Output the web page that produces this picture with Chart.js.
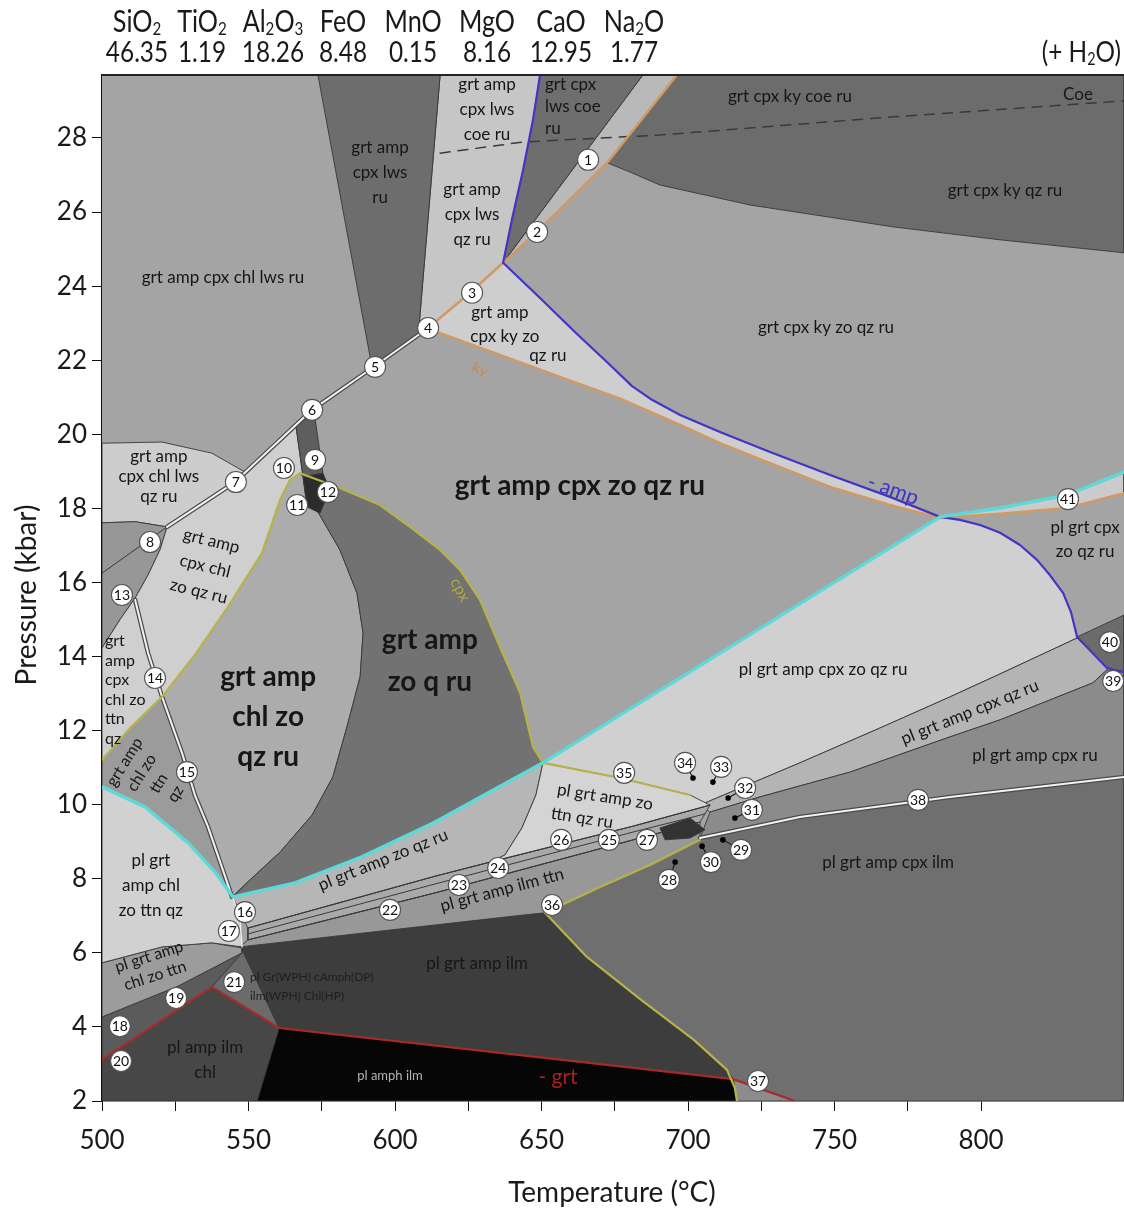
<!DOCTYPE html>
<html><head><meta charset="utf-8">
<script src="https://cdn.jsdelivr.net/npm/chart.js@4.4.1/dist/chart.umd.min.js"></script>
<style>html,body{margin:0;padding:0;background:#fff;}canvas{display:block}</style>
</head><body>
<canvas id="c" width="1124" height="1209"></canvas>
<script>
// ---------- axis limits & ticks ----------
const xLimits = [500, 848.8];
const yLimits = [2, 29.7];
const xStep = 25, xLabelStep = 50, yStep = 2;

// ---------- bulk composition header ----------
const oxides = ['SiO2','TiO2','Al2O3','FeO','MnO','MgO','CaO','Na2O'];
const oxideValues = ['46.35','1.19','18.26','8.48','0.15','8.16','12.95','1.77'];

// ---------- reaction lines [T (°C), P (kbar)] ----------
const coeLine = [[615.4,27.59],[643.7,27.89],[690.4,28.08],[770.0,28.57],[848.8,29.0]];
const line8 = [[500,16.25],[522.2,17.5]];
const lineA = [[549.8,6.35],[613.7,7.62],[681.2,9.05],[704.1,9.53]];
const lineB = [[549.8,6.51],[613.7,7.86],[681.2,9.26],[705.8,9.75]];
const lineC = [[549.8,6.67],[613.7,8.07],[632.4,8.45],[681.2,9.42],[707.5,9.99]];
const line38 = [[704.1,9.1],[738.2,9.67],[789.4,10.21],[848.8,10.75]];
const lineD = [[611.3,22.87],[592.2,21.79],[571.7,20.66],[545.4,18.71],[522.2,17.5]];
const line13 = [[511.3,15.53],[515.7,14.1],[520.5,12.91],[527.3,11.4],[531.7,10.26],[536.2,9.4],[544.4,7.51]];
const line16 = [[544.7,7.51],[547.1,6.89],[547.8,6.16]];
const grtOut = [[500,3.11],[537.5,5.08],[560.4,3.97],[715.4,2.59],[736.5,2.0]];
const cpxY1 = [[500,11.21],[509.6,12.07],[520.5,12.91],[531.7,14.04],[543.0,15.34],[554.6,16.79],[560.8,18.23],[564.2,18.77],[567.6,18.95]];
const cpxY3 = [[567.6,18.95],[581.2,18.55],[594.9,18.09],[605.1,17.5],[615.4,16.88],[622.2,16.34],[629.0,15.53],[635.8,14.26],[642.7,13.02],[647.1,11.56],[650.5,11.13]];
const cpxUp = [[651.2,7.08],[670.0,7.78],[687.0,8.37],[704.1,9.05]];
const cpxLow = [[651.2,7.08],[665.5,5.89],[684.0,4.73],[702.0,3.65],[713.3,2.84],[716.0,2.35],[716.7,2.0]];
const line35 = [[650.5,11.13],[676.8,10.72],[700.7,10.26]];
const kyTop = [[611.3,22.87],[625.6,23.82],[636.9,24.63],[648.5,25.46],[672.4,27.33],[696.2,29.7]];
const kyLow = [[611.3,22.87],[615.4,22.73],[635.8,22.14],[656.3,21.55],[677.8,20.93],[697.3,20.25],[710.9,19.76],[728.0,19.22],[748.5,18.58],[768.9,18.09],[786.0,17.74]];
const kyRight = [[786.0,17.74],[806.5,17.85],[829.4,18.01],[848.8,18.41]];
const ampTop = [[649.5,29.7],[647.1,28.49],[643.7,27.13],[639.9,25.79],[636.9,24.63]];
const ampLow = [[636.9,24.63],[649.5,23.68],[661.4,22.76],[673.4,21.87],[680.9,21.3],[687.7,20.93],[697.3,20.52],[710.9,20.06],[728.0,19.52],[748.5,18.9],[768.9,18.31],[786.0,17.77]];
const ampArc = [[786.0,17.77],[792.8,17.69],[799.7,17.55],[806.5,17.34],[813.3,17.01],[819.1,16.61],[823.5,16.2],[828.0,15.72],[830.7,15.2],[832.8,14.53],[843.0,13.69],[848.8,13.58]];
const plLeft = [[500,10.48],[514.7,9.94],[529.4,8.97],[538.6,8.18],[544.7,7.51]];
const plMid = [[544.7,7.51],[565.9,7.89],[588.7,8.59],[613.7,9.53],[650.5,11.13],[786.0,17.77]];
const plRight = [[786.0,17.77],[806.5,18.01],[829.4,18.36],[848.8,18.98]];

// ---------- phase-field polygons [T (°C), P (kbar)] ----------
const domain = [[500,2],[848.8,2],[848.8,29.7],[500,29.7]];
const darkTopRight = [[696.2,29.7],[848.8,29.7],[848.8,24.9],[806.5,25.25],[770.0,25.6],[721.2,26.19],[690.4,26.73],[680.2,27.08],[672.4,27.33]];
const lightStrip = [[684.6,29.7],[696.2,29.7],[672.4,27.33],[648.5,25.46],[636.9,24.63]];
const darkCoeWedge = [[649.5,29.7],[684.6,29.7],[636.9,24.63],[639.9,25.79],[643.7,27.13],[647.1,28.49]];
const lightLws = [[615.4,29.7],[649.5,29.7],[647.1,28.49],[643.7,27.13],[639.9,25.79],[636.9,24.63],[625.6,23.82],[611.3,22.87],[607.9,22.63]];
const darkLwsWedge = [[573.7,29.7],[615.4,29.7],[607.9,22.63],[592.2,21.79]];
const lightKy = [[611.3,22.87],[625.6,23.82],[636.9,24.63],[649.5,23.68],[661.4,22.76],[673.4,21.87],[680.9,21.3],[687.7,20.93],[697.3,20.52],[710.9,20.06],[728.0,19.52],[748.5,18.9],[768.9,18.31],[786.0,17.77],[786.0,17.74],[768.9,18.09],[748.5,18.58],[728.0,19.22],[710.9,19.76],[697.3,20.25],[677.8,20.93],[656.3,21.55],[635.8,22.14],[615.4,22.73]];
const band41 = [[786.0,17.77],[806.5,18.01],[829.4,18.36],[848.8,18.98],[848.8,18.41],[829.4,18.01],[806.5,17.85],[786.0,17.74]];
const plCpxZo = [[650.5,11.13],[786.0,17.77],[792.8,17.69],[799.7,17.55],[806.5,17.34],[813.3,17.01],[819.1,16.61],[823.5,16.2],[828.0,15.72],[830.7,15.2],[832.8,14.53],[832.8,14.5],[806.5,13.53],[789.4,12.91],[765.5,12.07],[738.2,11.13],[704.1,9.99],[700.7,10.26],[676.8,10.72]];
const bandCpxQz = [[832.8,14.5],[806.5,13.53],[789.4,12.91],[765.5,12.07],[738.2,11.13],[704.1,9.99],[707.5,9.8],[724.6,10.21],[755.3,10.88],[789.4,11.83],[806.5,12.29],[838.2,13.29],[843.0,13.64],[843.0,13.69]];
const region40 = [[832.8,14.53],[848.8,15.12],[848.8,13.58],[843.0,13.69]];
const cpxRu = [[707.5,9.8],[724.6,10.21],[755.3,10.88],[789.4,11.83],[806.5,12.29],[838.2,13.29],[843.0,13.64],[848.8,13.58],[848.8,10.75],[789.4,10.21],[738.2,9.67],[704.1,9.1]];
const cpxIlm = [[704.1,9.1],[738.2,9.67],[789.4,10.21],[848.8,10.75],[848.8,2],[736.5,2.0],[715.4,2.59],[713.3,2.84],[702.0,3.65],[684.0,4.73],[665.5,5.89],[651.2,7.08],[670.0,7.78],[687.0,8.37],[704.1,9.05]];
const region37 = [[715.4,2.59],[736.5,2.0],[716.7,2.0],[716.0,2.35]];
const plGrtAmpIlm = [[547.1,6.16],[643.7,7.02],[651.2,7.08],[665.5,5.89],[684.0,4.73],[702.0,3.65],[713.3,2.84],[715.4,2.59],[560.4,3.97],[547.8,6.08]];
const blackField = [[560.4,3.97],[715.4,2.59],[716.0,2.35],[716.7,2.0],[552.9,2.0]];
const plAmpIlmChl = [[500,3.11],[537.5,5.08],[560.4,3.97],[552.9,2.0],[500,2.0]];
const region21 = [[547.8,6.08],[560.4,3.97],[537.5,5.08]];
const region18 = [[500,4.27],[525.9,5.1],[547.8,6.0],[537.5,5.08],[500,3.11]];
const bandChl = [[500,5.73],[520.5,6.16],[537.5,6.27],[547.8,6.13],[547.8,6.0],[525.9,5.1],[500,4.27]];
const pl1 = [[500,10.48],[514.7,9.94],[529.4,8.97],[538.6,8.18],[544.7,7.51],[547.1,6.89],[547.8,6.16],[537.5,6.27],[520.5,6.16],[500,5.73]];
const ilmTtn = [[547.1,6.16],[643.7,7.02],[651.2,7.08],[670.0,7.78],[687.0,8.37],[704.1,9.05],[704.1,9.53],[681.2,9.05],[613.7,7.62],[549.8,6.35]];
const thinBand = [[549.8,6.35],[613.7,7.62],[681.2,9.05],[704.1,9.53],[707.5,9.99],[681.2,9.42],[632.4,8.45],[613.7,8.07],[549.8,6.67]];
const plZo = [[544.7,7.51],[565.9,7.89],[588.7,8.59],[613.7,9.53],[650.5,11.13],[648.1,10.26],[643.3,9.37],[637.5,8.64],[632.4,8.45],[613.7,8.07],[549.8,6.67],[547.1,7.1]];
const plZoTtn = [[650.5,11.13],[676.8,10.72],[700.7,10.26],[707.5,9.99],[681.2,9.42],[632.4,8.45],[637.5,8.64],[643.3,9.37],[648.1,10.26]];
const darkPatch = [[690.4,9.37],[700.7,9.64],[705.8,9.32],[700.7,9.1],[692.2,9.05]];
const lightLws2 = [[500,19.76],[520.5,19.79],[537.5,19.49],[548.8,18.98],[545.4,18.71],[522.2,17.5],[511.3,17.64],[500,17.61]];
const midLeft = [[500,17.61],[511.3,17.64],[522.2,17.5],[519.8,16.88],[515.7,16.2],[511.3,15.58],[506.1,14.99],[500,14.23]];
const lightLeft = [[500,11.21],[500,14.23],[506.1,14.99],[511.3,15.58],[515.7,16.2],[519.8,16.88],[522.2,17.5],[545.4,18.71],[566.2,20.22],[568.6,18.85],[567.6,18.95],[564.2,18.77],[560.8,18.23],[554.6,16.79],[543.0,15.34],[531.7,14.04],[520.5,12.91],[509.6,12.07]];
const midTtn = [[500,11.21],[509.6,12.07],[520.5,12.91],[527.3,11.4],[531.7,10.26],[536.2,9.4],[544.4,7.51],[538.6,8.18],[529.4,8.97],[514.7,9.94],[500,10.48]];
const midLens = [[567.6,18.95],[564.2,18.77],[560.8,18.23],[554.6,16.79],[543.0,15.34],[531.7,14.04],[520.5,12.91],[527.3,11.4],[531.7,10.26],[536.2,9.4],[544.4,7.51],[550.5,7.97],[560.8,8.72],[571.7,9.72],[578.8,10.75],[583.6,12.1],[588.1,13.45],[589.1,14.64],[587.0,15.72],[581.2,16.88],[572.0,18.14],[570.0,18.04],[568.6,18.85]];
const lensDark = [[572.0,18.14],[577.8,18.5],[581.2,18.55],[594.9,18.09],[605.1,17.5],[615.4,16.88],[622.2,16.34],[629.0,15.53],[635.8,14.26],[642.7,13.02],[647.1,11.56],[650.5,11.13],[613.7,9.53],[588.7,8.59],[565.9,7.89],[544.7,7.51],[550.5,7.97],[560.8,8.72],[571.7,9.72],[578.8,10.75],[583.6,12.1],[588.1,13.45],[589.1,14.64],[587.0,15.72],[581.2,16.88]];
const band9 = [[566.2,20.22],[572.4,20.6],[575.4,18.95],[568.6,18.85]];
const patch11 = [[568.6,18.85],[575.4,18.95],[577.8,18.5],[574.4,17.87],[570.0,18.04]];

// ---------- numbered invariant points [n, T, P] ----------
const points = [[1,665.9,27.41],[2,648.5,25.46],[3,626.3,23.82],[4,611.3,22.87],[5,593.2,21.82],[6,571.7,20.66],[7,545.7,18.71],[8,516.4,17.09],[9,572.7,19.31],[10,562.1,19.09],[11,566.6,18.09],[12,577.1,18.44],[13,506.8,15.66],[14,518.1,13.42],[15,529.0,10.88],[16,548.8,7.1],[17,543.3,6.59],[18,506.1,4.02],[19,525.3,4.78],[20,506.5,3.08],[21,545.1,5.21],[22,598.3,7.16],[23,621.8,7.83],[24,635.2,8.29],[25,673.0,9.05],[26,656.7,9.05],[27,686.0,9.05],[28,693.5,7.97],[29,718.1,8.78],[30,707.8,8.45],[31,721.8,9.86],[32,719.5,10.45],[33,711.3,11.02],[34,699.0,11.13],[35,678.2,10.86],[36,653.6,7.29],[37,723.9,2.54],[38,778.5,10.13],[39,845.1,13.34],[40,844.0,14.39],[41,829.7,18.25]];
const pointerDots = [[34,701.7,10.72],[33,708.5,10.61],[32,713.7,10.18],[31,716.0,9.64],[29,711.9,9.05],[30,704.8,8.88],[28,695.6,8.45]];

// ---------- field labels ----------
const annotations = [
 {t:541.3,p:24.22,text:['grt amp cpx chl lws ru']},
 {t:594.9,p:27.08,text:['grt amp','cpx lws','ru'],lh:25},
 {t:631.4,p:28.76,text:['grt amp','cpx lws','coe ru'],lh:25},
 {t:626.3,p:25.92,text:['grt amp','cpx lws','qz ru'],lh:25},
 {t:651.2,p:28.86,text:['grt cpx','lws coe','ru'],lh:22,align:'left'},
 {t:734.8,p:29.11,text:['grt cpx ky coe ru']},
 {t:833.1,p:29.16,text:['Coe']},
 {t:808.2,p:26.59,text:['grt cpx ky qz ru']},
 {t:635.8,p:23.3,text:['grt amp']},
 {t:637.5,p:22.63,text:['cpx ky zo']},
 {t:652.2,p:22.14,text:['qz ru']},
 {t:747.1,p:22.87,text:['grt cpx ky zo qz ru']},
 {t:629.0,p:21.75,text:['ky'],color:'#c98a50',rot:25,size:15},
 {t:770.0,p:18.5,text:['- amp'],color:'#4033c4',rot:20,size:21},
 {t:663.1,p:18.6,text:['grt amp cpx zo qz ru'],bold:true,size:28},
 {t:835.5,p:17.15,text:['pl grt cpx','zo qz ru'],lh:24},
 {t:519.4,p:18.85,text:['grt amp','cpx chl lws','qz ru'],lh:20},
 {t:535.2,p:16.44,text:['grt amp','cpx chl','zo qz ru'],lh:26,rot:14},
 {t:501.0,p:13.1,text:['grt','amp','cpx','chl zo','ttn','qz'],lh:19.5,align:'left',size:16},
 {t:556.7,p:12.37,text:['grt amp','chl zo','qz ru'],bold:true,size:28,lh:40},
 {t:611.9,p:13.88,text:['grt amp','zo q ru'],bold:true,size:28,lh:42},
 {t:622.2,p:15.8,text:['cpx'],color:'#b0aa38',rot:62,size:16},
 {t:516.4,p:10.72,text:['grt amp','chl zo','ttn','qz'],lh:20,rot:-58,size:16},
 {t:516.7,p:7.83,text:['pl grt','amp chl','zo ttn qz'],lh:25},
 {t:517.1,p:5.64,text:['pl grt amp','chl zo ttn'],lh:20,rot:-18,size:16},
 {t:535.2,p:3.11,text:['pl amp ilm','chl'],lh:25},
 {t:550.5,p:5.1,text:['pl Gr(WPH) cAmph(DP)','ilm(WPH) Chl(HP)'],lh:19,align:'left',size:12,color:'#1e1e1e'},
 {t:628.0,p:5.7,text:['pl grt amp ilm']},
 {t:598.3,p:2.67,text:['pl amph ilm'],size:13,color:'#b5b5b5'},
 {t:655.6,p:2.65,text:['- grt'],size:21,color:'#b01e1e'},
 {t:595.9,p:8.51,text:['pl grt amp zo qz ru'],rot:-22},
 {t:636.5,p:7.7,text:['pl grt amp ilm ttn'],rot:-15},
 {t:671.7,p:10.21,text:['pl grt amp zo'],rot:9},
 {t:663.8,p:9.64,text:['ttn qz ru'],rot:9},
 {t:746.1,p:13.66,text:['pl grt amp cpx zo qz ru']},
 {t:796.2,p:12.5,text:['pl grt amp cpx qz ru'],rot:-22},
 {t:818.4,p:11.34,text:['pl grt amp cpx ru']},
 {t:768.3,p:8.43,text:['pl grt amp cpx ilm']}
];

const FONT = "Lato, 'Open Sans', 'DejaVu Sans', sans-serif";
const toXY = a => a.map(([x, y]) => ({x, y}));
const layers = [];
function field(pts, color, bw) {
  layers.push({data: toXY(pts.concat([pts[0]])), showLine: true, fill: 'shape', backgroundColor: color,
    borderColor: '#383838', borderWidth: bw === undefined ? 0.9 : bw, pointRadius: 0, tension: 0});
}
function path(pts, color, w, dash) {
  layers.push({data: toXY(pts), showLine: true, fill: false, borderColor: color, borderWidth: w,
    borderDash: dash || [], pointRadius: 0, tension: 0, borderCapStyle: 'round', borderJoinStyle: 'round'});
}
function dbl(pts) { path(pts, '#4a4a4a', 4.5); path(pts, '#f2f2f2', 2); }

field(domain, '#a4a4a4', 0);
field(darkTopRight, '#6c6c6c');
field(lightStrip, '#b9b9b9');
field(darkCoeWedge, '#6e6e6e');
field(lightLws, '#c6c6c6');
field(darkLwsWedge, '#6d6d6d');
field(lightKy, '#cecece');
field(band41, '#cbcbcb');
field(plCpxZo, '#d0d0d0');
field(bandCpxQz, '#b4b4b4');
field(region40, '#6b6b6b');
field(cpxRu, '#8b8b8b');
field(cpxIlm, '#6f6f6f');
field(region37, '#8c8c8c');
field(plGrtAmpIlm, '#3d3d3d');
field(blackField, '#060606');
field(plAmpIlmChl, '#474747');
field(region21, '#6b6b6b');
field(region18, '#5b5b5b');
field(bandChl, '#9c9c9c');
field(pl1, '#d1d1d1');
field(ilmTtn, '#989898');
field(thinBand, '#a9a9a9');
field(plZo, '#b6b6b6');
field(plZoTtn, '#d4d4d4');
field(darkPatch, '#333333');
field(lightLws2, '#cdcdcd');
field(midLeft, '#979797');
field(lightLeft, '#cfcfcf');
field(midTtn, '#9b9b9b');
field(midLens, '#acacac');
field(lensDark, '#727272');
field(band9, '#5e5e5e');
field(patch11, '#2c2c2c');

path(coeLine, '#3a3a3a', 1.5, [10, 8]);
path(line8, '#3a3a3a', 1);
path(lineA, '#3a3a3a', 1);
path(lineB, '#3a3a3a', 1);
path(lineC, '#3a3a3a', 1);
dbl(line38);
dbl(lineD);
dbl(line13);
path(line16, '#f2f2f2', 1.5);
path(grtOut, '#a82a2a', 2.2);
[cpxY1, cpxY3, cpxUp, cpxLow, line35].forEach(l => path(l, '#b8b24a', 2.2));
[kyTop, kyLow, kyRight].forEach(l => path(l, '#cf9a66', 2.6));
[ampTop, ampLow, ampArc].forEach(l => path(l, '#4436c4', 2.2));
[plLeft, plMid, plRight].forEach(l => path(l, '#5fd8d8', 3.4));

const pmap = {}; points.forEach(([n, t, p]) => pmap[n] = [t, p]);
pointerDots.forEach(([n, t, p]) => path([pmap[n], [t, p]], '#111', 1.1));
layers.push({data: toXY(pointerDots.map(d => [d[1], d[2]])), showLine: false, pointRadius: 2.8,
  pointBackgroundColor: '#000', pointBorderWidth: 0});
layers.push({data: toXY(points.map(d => [d[1], d[2]])), showLine: false, pointRadius: 10.5, clip: false,
  pointBackgroundColor: '#ffffff', pointBorderColor: '#555', pointBorderWidth: 1.1});
layers.forEach((d, i) => d.order = layers.length - i);

// formula text: digits rendered as subscripts
function drawFormula(ctx, str, x, y, size, align, sx) {
  const runs = [];
  for (const ch of str) {
    const sub = /[0-9]/.test(ch);
    if (runs.length && runs[runs.length - 1].sub === sub) runs[runs.length - 1].s += ch;
    else runs.push({s: ch, sub});
  }
  const fN = size + 'px ' + FONT, fS = Math.round(size * 0.6) + 'px ' + FONT;
  let w = 0;
  runs.forEach(r => { ctx.font = r.sub ? fS : fN; r.w = ctx.measureText(r.s).width; w += r.w; });
  ctx.save(); ctx.translate(x, y); ctx.scale(sx, 1);
  let cx = align === 'right' ? -w : align === 'center' ? -w / 2 : 0;
  ctx.textAlign = 'left'; ctx.textBaseline = 'alphabetic';
  runs.forEach(r => { ctx.font = r.sub ? fS : fN; ctx.fillText(r.s, cx, r.sub ? size * 0.1 : 0); cx += r.w; });
  ctx.restore();
}
function drawPlain(ctx, str, x, y, size, sx) {
  ctx.save(); ctx.translate(x, y); ctx.scale(sx, 1);
  ctx.font = size + 'px ' + FONT; ctx.textAlign = 'center'; ctx.textBaseline = 'alphabetic';
  ctx.fillText(str, 0, 0);
  ctx.restore();
}

const labelPlugin = {
  id: 'labels',
  afterDatasetsDraw(chart) {
    const {ctx, scales: {x, y}, chartArea: a} = chart;
    ctx.save();
    annotations.forEach(L => {
      const size = L.size || 17;
      ctx.save();
      ctx.translate(x.getPixelForValue(L.t), y.getPixelForValue(L.p));
      if (L.rot) ctx.rotate(L.rot * Math.PI / 180);
      ctx.font = (L.bold ? 'bold ' : '') + size + 'px ' + FONT;
      ctx.fillStyle = L.color || '#161616';
      ctx.textAlign = L.align || 'center';
      ctx.textBaseline = 'middle';
      const lh = L.lh || size * 1.15, n = L.text.length;
      L.text.forEach((s, i) => ctx.fillText(s, 0, (i - (n - 1) / 2) * lh));
      ctx.restore();
    });
    ctx.font = '14px ' + FONT; ctx.fillStyle = '#111'; ctx.textAlign = 'center'; ctx.textBaseline = 'middle';
    points.forEach(([n, t, p]) => ctx.fillText(String(n), x.getPixelForValue(t), y.getPixelForValue(p) + 0.5));
    ctx.strokeStyle = '#222'; ctx.lineWidth = 2;
    ctx.beginPath(); ctx.moveTo(a.left, a.top); ctx.lineTo(a.right, a.top); ctx.stroke();
    ctx.restore();
  },
  afterDraw(chart) {
    const ctx = chart.ctx;
    ctx.save();
    ctx.fillStyle = '#1a1a1a';
    const cxs = [137, 202, 273, 343, 413, 487, 561, 634];
    oxides.forEach((o, i) => drawFormula(ctx, o, cxs[i], 32, 30, 'center', 0.84));
    oxideValues.forEach((v, i) => drawPlain(ctx, v, cxs[i], 62, 29, 0.84));
    drawFormula(ctx, '(+ H2O)', 1121, 62, 29, 'right', 0.84);
    ctx.font = '28px ' + FONT; ctx.textAlign = 'center'; ctx.textBaseline = 'alphabetic';
    ctx.fillText('Temperature (°C)', 612, 1202);
    ctx.translate(36, 595); ctx.rotate(-Math.PI / 2);
    ctx.fillText('Pressure (kbar)', 0, 0);
    ctx.restore();
  }
};

const axisCommon = {
  type: 'linear', z: 1,
  grid: {drawOnChartArea: false, drawTicks: true, tickLength: 10, color: '#111', lineWidth: 1},
  border: {display: true, color: '#111', width: 1.5}
};

new Chart(document.getElementById('c'), {
  type: 'scatter',
  data: {datasets: layers},
  options: {
    responsive: false, animation: false, devicePixelRatio: 1, events: [],
    layout: {autoPadding: false, padding: {top: 75, right: 0, left: 0, bottom: 0}},
    plugins: {legend: {display: false}, tooltip: {enabled: false}},
    scales: {
      x: Object.assign({}, axisCommon, {
        min: xLimits[0], max: xLimits[1],
        afterFit: s => { s.height = 108; s.paddingLeft = 0; s.paddingRight = 0; },
        afterBuildTicks: s => { s.ticks = s.ticks.filter(t => Math.abs(t.value % xStep) < 1e-6); },
        ticks: {stepSize: xStep, autoSkip: false, maxRotation: 0, padding: 14, color: '#1a1a1a',
          font: {family: FONT, size: 26}, callback: v => (v % xLabelStep === 0 ? String(v) : '')}
      }),
      y: Object.assign({}, axisCommon, {
        min: yLimits[0], max: yLimits[1],
        afterFit: s => { s.width = 102; s.paddingTop = 0; s.paddingBottom = 0; },
        afterBuildTicks: s => { s.ticks = s.ticks.filter(t => Math.abs(t.value % yStep) < 1e-6); },
        ticks: {stepSize: yStep, autoSkip: false, padding: 5, color: '#1a1a1a',
          font: {family: FONT, size: 26}, callback: v => String(v)}
      })
    }
  },
  plugins: [labelPlugin]
});
</script>
</body></html>
